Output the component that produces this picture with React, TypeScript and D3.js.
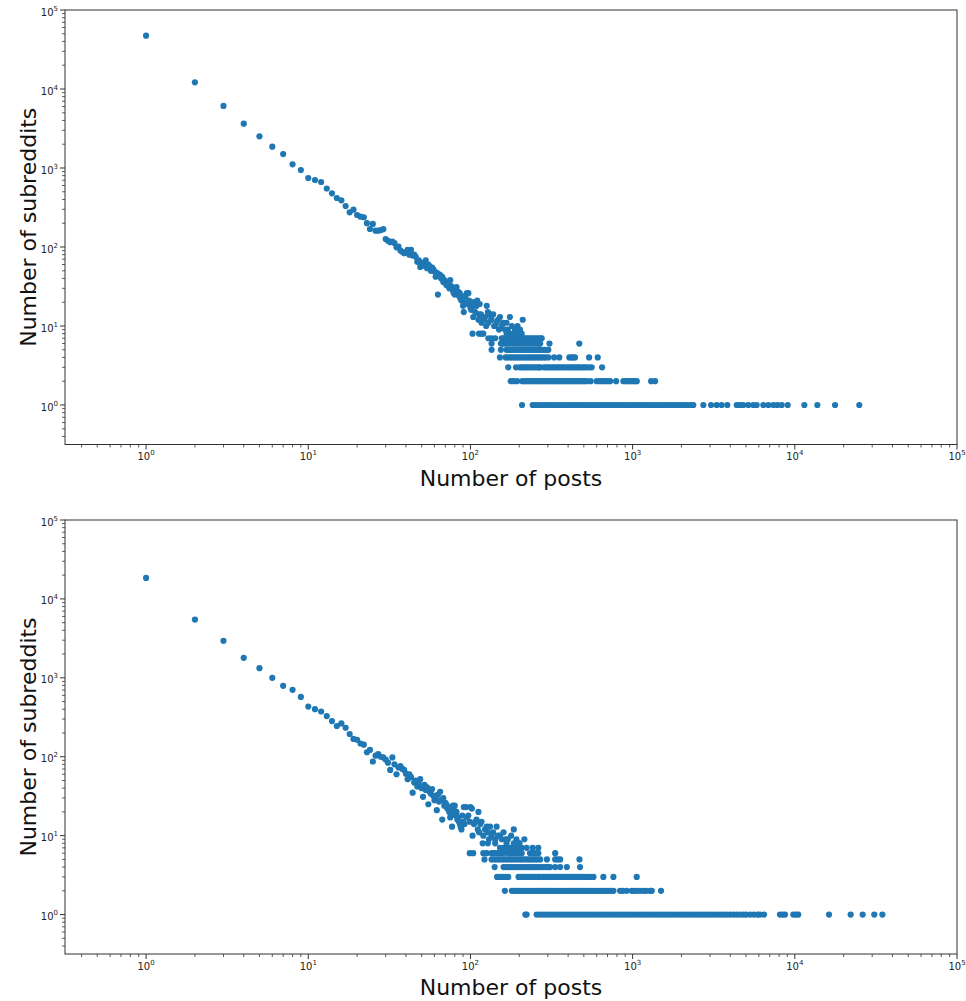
import React from 'react';
import * as d3 from 'd3';

const W = 966;
const H = 1001;

const xLabelText = 'Number of posts';
const yLabelText = 'Number of subreddits';
const tickExponents = [0, 1, 2, 3, 4, 5];

// ---------- Top panel ----------
const topHead: [number, number][] = [
  [1, 47300], [2, 12160], [3, 6100], [4, 3640], [5, 2520], [6, 1860], [7, 1500], [8, 1114], [9, 944], [10, 747],
  [11, 705], [12, 665], [13, 550], [14, 478], [15, 417], [16, 390], [17, 330], [18, 275], [19, 297], [20, 254],
  [21, 242], [22, 238], [23, 200], [24, 169], [25, 196], [26, 161], [27, 161], [28, 164], [29, 168], [30, 126],
  [31, 120], [32, 115], [33, 117], [34, 112], [35, 99], [36, 101], [37, 90], [38, 87], [39, 83], [40, 84],
  [41, 92], [42, 80], [43, 92], [44, 78], [45, 80], [46, 75], [47, 65], [48, 68], [49, 56], [50, 63],
  [51, 61], [52, 58], [53, 68], [54, 54], [55, 60], [56, 57], [57, 50], [58, 55], [59, 52], [60, 49],
  [61, 42], [62, 47], [63, 25], [64, 45], [65, 44], [66, 40], [67, 42], [68, 36], [69, 38], [70, 36],
  [71, 33], [72, 35], [73, 33], [74, 30], [75, 38], [76, 32], [77, 30], [78, 28], [79, 26], [80, 25],
  [81, 29], [82, 31], [83, 27], [84, 27], [85, 24], [86, 26], [87, 22], [88, 21], [89, 23], [90, 18],
  [91, 15], [92, 20], [93, 24], [95, 26], [96, 19], [97, 26], [98, 21], [99, 19], [100, 17], [101, 16],
  [103, 20], [104, 13], [105, 18], [107, 15], [109, 18], [110, 21], [112, 12], [113, 14], [114, 19], [116, 14],
  [117, 11], [120, 13], [122, 12], [123, 13], [125, 10], [126, 18], [128, 15], [129, 11], [131, 14], [132, 14],
  [134, 12], [135, 12], [138, 14], [140, 10], [142, 10], [145, 11], [148, 12], [150, 9], [152, 13], [156, 10],
  [159, 11], [163, 9], [167, 11], [170, 9], [175, 13], [180, 10], [188, 9], [195, 10], [202, 9], [210, 12],
];
const topRow8 = [103, 113, 117, 120, 167, 175, 185, 195, 207];
const topRow7 = [129, 135, 142, 156, 160, 165, 170, 175, 180, 185, 190, 196, 202, 208, 214, 220, 226, 233, 240, 247, 255, 262, 270, 275];
const topRow6 = [135, 154, 158, 163, 168, 173, 178, 184, 190, 196, 202, 208, 214, 221, 228, 235, 242, 250, 258, 265, 269, 307, 469];
const topRow5 = [135, 154, 167, 172, 177, 182, 188, 194, 200, 206, 212, 218, 225, 232, 239, 246, 254, 262, 270, 278, 286, 294, 302];
const topRow4 = [152, 165, 170, 175, 181, 187, 193, 199, 205, 212, 219, 226, 233, 240, 248, 256, 264, 272, 281, 290, 302, 328, 353, 407, 420, 430, 441, 539, 609];
const topRow3 = [171, 191, 202, 208, 214, 221, 228, 235, 242, 250, 258, 265, 269, 284, 292, 301, 310, 320, 330, 340, 350, 361, 372, 384, 396, 408, 421, 434, 447, 461, 475, 490, 505, 520, 540, 559, 648];
const topRow2 = [177, 185, 194, 209, 216, 223, 230, 238, 246, 254, 262, 270, 279, 288, 297, 306, 316, 326, 336, 347, 358, 369, 381, 393, 405, 418, 431, 445, 459, 474, 489, 505, 521, 551, 600, 625, 650, 676, 700, 726, 791, 877, 905, 935, 965, 1000, 1030, 1060, 1300, 1375];
const topRow1 = [208, 242, 253, 264, 276, 288, 301, 315, 329, 344, 359, 375, 392, 410, 428, 447, 467, 488, 510, 533, 557, 582, 608, 635, 664, 694, 725, 757, 791, 827, 864, 903, 943, 986, 1030, 1076, 1124, 1175, 1228, 1283, 1340, 1400, 1463, 1529, 1598, 1670, 1745, 1823, 1905, 1991, 2080, 2174, 2272, 2367, 2728, 3044, 3298, 3540, 3836, 4384, 4594, 4816, 5169, 5546, 5818, 6395, 6870, 7376, 7804, 8300, 9040, 11450, 13770, 17700, 24980];

// ---------- Bottom panel ----------
const bottomHead: [number, number][] = [
  [1, 18450], [2, 5470], [3, 2940], [4, 1790], [5, 1325], [6, 1000], [7, 792], [8, 705], [9, 572], [10, 432],
  [11, 401], [12, 374], [13, 327], [14, 283], [15, 245], [16, 264], [17, 233], [18, 194], [19, 168], [20, 164],
  [21, 147], [22, 142], [23, 114], [24, 122], [25, 87], [26, 103], [27, 108], [28, 100], [29, 98], [30, 92],
  [31, 84], [32, 68], [33, 98], [34, 80], [35, 60], [36, 73], [37, 76], [38, 70], [39, 68], [40, 61],
  [41, 52], [42, 60], [43, 55], [44, 35], [45, 47], [46, 50], [47, 42], [48, 45], [49, 52], [50, 40],
  [51, 31], [52, 44], [53, 38], [54, 41], [55, 25], [56, 36], [57, 34], [58, 39], [59, 32], [60, 28],
  [61, 30], [62, 21], [63, 33], [64, 27], [65, 36], [66, 28], [67, 16], [68, 30], [69, 24], [70, 26],
  [71, 25], [72, 22], [73, 23], [74, 20], [75, 17], [76, 19], [77, 13], [78, 24], [79, 21], [80, 24],
  [81, 18], [82, 20], [83, 16], [84, 17], [85, 15], [86, 14], [87, 13], [88, 12], [89, 18], [90, 15],
  [91, 23], [92, 14], [94, 23], [95, 17], [97, 18], [99, 15], [100, 23], [102, 22], [103, 10], [105, 14],
  [107, 15], [109, 16], [111, 12], [112, 20], [113, 11], [115, 14], [117, 15], [120, 10], [123, 12], [126, 13],
  [128, 11], [130, 9], [132, 13], [135, 10], [138, 11], [142, 9], [145, 13], [148, 10], [152, 10], [156, 9],
  [160, 11], [165, 9], [170, 9], [178, 10], [185, 12], [192, 9], [200, 8], [215, 9],
];
const bottomRow8 = [119, 128, 142, 167, 185, 200];
const bottomRow7 = [152, 159, 166, 175, 184, 194, 200, 207, 222, 242, 262];
const bottomRow6 = [99, 104, 120, 126, 135, 140, 145, 150, 155, 160, 171, 176, 182, 188, 194, 200, 207, 233, 240, 247, 255, 262, 333];
const bottomRow5 = [122, 135, 140, 146, 151, 157, 163, 169, 175, 181, 188, 195, 202, 209, 217, 225, 233, 241, 250, 259, 269, 296, 333, 345, 357, 470];
const bottomRow4 = [141, 160, 165, 171, 177, 183, 190, 197, 204, 211, 219, 227, 235, 243, 252, 261, 270, 280, 290, 300, 310, 333, 357, 393, 474];
const bottomRow3 = [146, 152, 158, 165, 171, 198, 205, 212, 220, 228, 236, 244, 253, 262, 269, 282, 292, 302, 313, 324, 336, 348, 360, 373, 386, 400, 414, 429, 444, 460, 477, 494, 512, 530, 550, 573, 660, 761, 1060];
const bottomRow2 = [163, 180, 186, 193, 200, 207, 214, 222, 230, 238, 247, 256, 265, 274, 284, 294, 305, 316, 327, 339, 351, 364, 377, 390, 404, 418, 433, 449, 465, 482, 499, 517, 535, 554, 574, 595, 616, 638, 661, 685, 710, 736, 761, 836, 870, 919, 987, 1020, 1060, 1111, 1164, 1212, 1280, 1312, 1496];
const bottomRow1 = [218, 222, 256, 267, 279, 291, 304, 317, 331, 346, 361, 377, 394, 411, 429, 448, 468, 489, 511, 534, 558, 583, 609, 636, 664, 694, 725, 757, 791, 826, 863, 902, 942, 984, 1028, 1074, 1122, 1172, 1224, 1279, 1336, 1396, 1458, 1523, 1591, 1662, 1736, 1814, 1895, 1979, 2068, 2160, 2256, 2357, 2462, 2572, 2687, 2807, 2932, 3063, 3200, 3343, 3492, 3648, 3811, 3985, 4176, 4384, 4600, 4800, 5000, 5300, 5600, 5900, 6100, 6458, 8100, 8415, 8700, 9790, 10170, 10500, 16250, 22100, 26200, 30900, 34670];

type Pt = [number, number];

function buildPoints(head: Pt[], rows: [number, number[]][]): Pt[] {
  const pts: Pt[] = head.slice();
  rows.forEach(([count, xs]) => xs.forEach((x) => pts.push([x, count])));
  return pts;
}

const topPoints = buildPoints(topHead, [
  [1, topRow1], [2, topRow2], [3, topRow3], [4, topRow4], [5, topRow5], [6, topRow6], [7, topRow7], [8, topRow8],
]);
const bottomPoints = buildPoints(bottomHead, [
  [1, bottomRow1], [2, bottomRow2], [3, bottomRow3], [4, bottomRow4], [5, bottomRow5], [6, bottomRow6], [7, bottomRow7], [8, bottomRow8],
]);

const FONT = 'DejaVu Sans, sans-serif';
const DOT = '#1f77b4';
const AXIS = '#333';

function minorTicks(lo: number, hi: number): number[] {
  const out: number[] = [];
  for (let e = -1; e <= 5; e++) {
    for (let m = 2; m <= 9; m++) {
      const v = m * Math.pow(10, e);
      if (v > lo && v < hi) out.push(v);
    }
  }
  return out;
}

function Panel({ top, bottom, points }: { top: number; bottom: number; points: Pt[] }) {
  const left = 65;
  const right = 957;
  const lo = Math.pow(10, -0.5);
  const hi = 1e5;
  const x = d3.scaleLog().domain([lo, hi]).range([left, right]);
  const y = d3.scaleLog().domain([lo, hi]).range([bottom, top]);
  const minors = minorTicks(lo, hi);
  const majors = tickExponents.map((e) => Math.pow(10, e));
  const midY = (top + bottom) / 2;
  return (
    <g>
      {points.map(([px, py], i) => (
        <circle key={i} cx={x(px)} cy={y(py)} r={3.1} fill={DOT} />
      ))}
      <rect x={left} y={top} width={right - left} height={bottom - top} fill="none" stroke={AXIS} strokeWidth={1} />
      {majors.map((v, i) => (
        <g key={'xm' + i}>
          <line x1={x(v)} x2={x(v)} y1={bottom} y2={bottom + 5} stroke={AXIS} strokeWidth={1} />
          <text x={x(v)} y={bottom + 15.5} textAnchor="middle" fontFamily={FONT} fontSize={10} fill="#222">
            10<tspan dy={-5} fontSize={7}>{tickExponents[i]}</tspan>
          </text>
        </g>
      ))}
      {minors.map((v, i) => (
        <line key={'xn' + i} x1={x(v)} x2={x(v)} y1={bottom} y2={bottom + 3} stroke={AXIS} strokeWidth={0.8} />
      ))}
      {majors.map((v, i) => (
        <g key={'ym' + i}>
          <line x1={left - 5} x2={left} y1={y(v)} y2={y(v)} stroke={AXIS} strokeWidth={1} />
          <text x={left - 7} y={y(v) + 5.5} textAnchor="end" fontFamily={FONT} fontSize={10} fill="#222">
            10<tspan dy={-5} fontSize={7}>{tickExponents[i]}</tspan>
          </text>
        </g>
      ))}
      {minors.map((v, i) => (
        <line key={'yn' + i} x1={left - 3} x2={left} y1={y(v)} y2={y(v)} stroke={AXIS} strokeWidth={0.8} />
      ))}
      <text x={(left + right) / 2} y={bottom + 41} textAnchor="middle" fontFamily={FONT} fontSize={22} fill="#111">
        {xLabelText}
      </text>
      <text
        transform={`translate(36, ${midY}) rotate(-90)`}
        textAnchor="middle"
        fontFamily={FONT}
        fontSize={22}
        fill="#111"
      >
        {yLabelText}
      </text>
    </g>
  );
}

export default function App() {
  return (
    <svg
      width={W}
      height={H}
      viewBox={`0 0 ${W} ${H}`}
      style={{ position: 'absolute', left: 0, top: 0, background: '#fff' }}
    >
      <rect x={0} y={0} width={W} height={H} fill="#fff" />
      <Panel top={10} bottom={444.5} points={topPoints} />
      <Panel top={520} bottom={954} points={bottomPoints} />
    </svg>
  );
}
